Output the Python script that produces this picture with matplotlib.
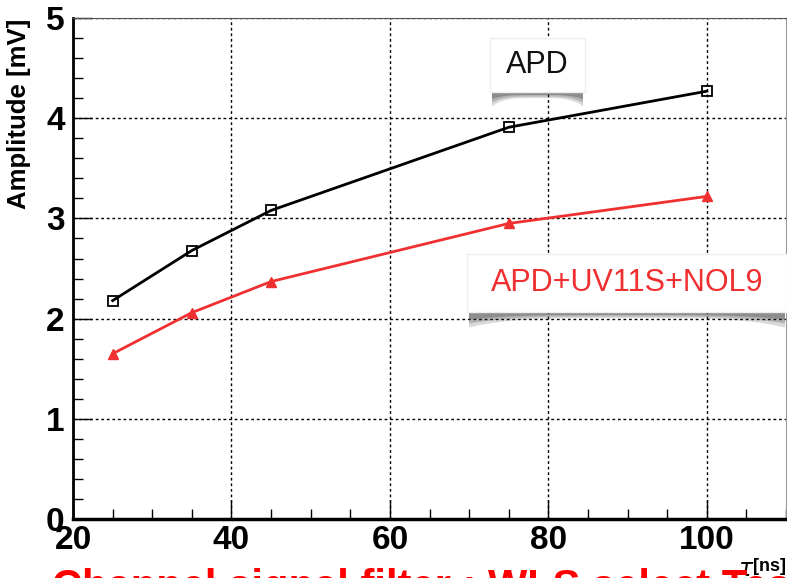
import numpy as np
import matplotlib.pyplot as plt
from matplotlib.patches import Rectangle, Polygon
from matplotlib.ticker import MultipleLocator

# shaping time tau [ns]
tau = [25, 35, 45, 75, 100]
# amplitudes [mV]
amp_apd = [2.18, 2.68, 3.08, 3.91, 4.27]
amp_filter = [1.65, 2.06, 2.37, 2.95, 3.22]

plt.rcParams['font.family'] = ['Liberation Sans', 'DejaVu Sans']

W, H = 787, 578
fig = plt.figure(figsize=(W / 100, H / 100), dpi=100)
ax = fig.add_axes([0.0928, 0.102, 0.906, 0.8668])

ax.plot(tau, amp_apd, color='black', lw=2, marker='s', markersize=7,
        markerfacecolor='none', markeredgewidth=1.3, zorder=4)
ax.plot(tau, amp_filter, color='#f03030', lw=2, marker='^', markersize=7,
        markerfacecolor='#f03030', markeredgecolor='#f03030', zorder=4)

ax.set_xlim(20, 110)
ax.set_ylim(0, 5)
ax.xaxis.set_major_locator(MultipleLocator(20))
ax.xaxis.set_minor_locator(MultipleLocator(5))
ax.yaxis.set_major_locator(MultipleLocator(1))
ax.yaxis.set_minor_locator(MultipleLocator(0.2))
ax.tick_params(which='major', direction='in', length=14, width=1, pad=6,
               labelsize=24)
ax.tick_params(axis='x', which='major', pad=4)
ax.tick_params(which='minor', direction='in', length=7, width=1)
for lab in ax.get_xticklabels() + ax.get_yticklabels():
    lab.set_fontweight('bold')

ax.grid(True, which='major', color='black', linestyle=(0, (2, 2)), lw=1)
ax.set_axisbelow(True)
ax.spines['left'].set_linewidth(2)
ax.spines['bottom'].set_linewidth(2.5)
ax.spines['top'].set_color('#555555')
ax.spines['right'].set_color('#999999')

# axis titles, ROOT style
fig.text(0.024, 0.968, 'Amplitude [mV]', rotation=90, ha='center', va='top',
         fontsize=18.5, fontweight='bold')
fig.text(0.948, -0.006, r'$\tau$', ha='center', va='bottom', fontsize=17)
fig.text(0.957, 0.006, '[ns]', ha='left', va='bottom', fontsize=13,
         fontweight='bold')

# bottom caption cut by the figure edge
fig.text(0.066, 0.018, 'Channel signal filter : WLS select Test', color='red',
         fontsize=30, fontweight='bold', va='top', ha='left')


def label_box(x0, y0, x1, y1, text, color):
    # curled shadow under the box: thick at the corners, thin in the middle
    xs = np.linspace(x0 + 2, x1 - 2, 60)
    u = (xs - x0) / (x1 - x0)
    depth = 6 + 10 * (2 * u - 1) ** 4
    for k, a in zip([1.0, 0.75, 0.5], [0.18, 0.22, 0.3]):
        pts = [(x, y1 - 4) for x in xs] + \
              [(x, y1 + d * k) for x, d in zip(xs[::-1], depth[::-1])]
        pts = [(px / W, 1 - py / H) for px, py in pts]
        fig.patches.append(Polygon(pts, closed=True, transform=fig.transFigure,
                                   facecolor='#333333', alpha=a,
                                   edgecolor='none', zorder=5))
    fig.patches.append(Rectangle((x0 / W, (H - y1) / H), (x1 - x0) / W,
                                 (y1 - y0) / H, transform=fig.transFigure,
                                 facecolor='white', edgecolor='#eeeeee',
                                 lw=1, zorder=6))
    fig.text((x0 + x1) / 2 / W, 1 - (y0 + y1) / 2 / H, text, color=color,
             ha='center', va='center', fontsize=22, zorder=7)


label_box(490, 38, 585, 92, 'APD', '#111111')
label_box(467, 254, 787, 312, 'APD+UV11S+NOL9', '#f03030')

fig.savefig('out.png', dpi=100)
